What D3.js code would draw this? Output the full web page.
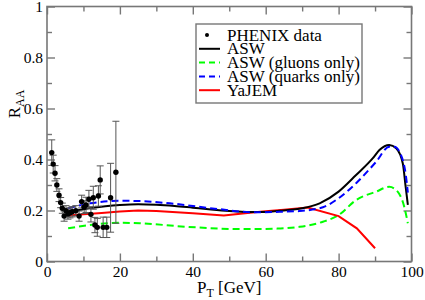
<!DOCTYPE html>
<html>
<head>
<meta charset="utf-8">
<script src="https://cdn.jsdelivr.net/npm/d3@7"></script>
<style>
  body { margin: 0; background: #fff; }
  svg text { font-family: "Liberation Serif", "Times New Roman", Tinos; }
</style>
</head>
<body>
<div id="chart"></div>
<script>
// Chart data
var phenixPt  = [1.3, 1.7, 2.2, 2.7, 3.3, 3.75, 4.2, 4.7, 5.2, 5.75, 6.3, 6.9, 7.9, 8.8, 9.5, 10.2, 10.7, 11.5, 12.05, 12.7, 13.15, 13.8, 14.1, 14.6, 15.4, 16.4, 17.45, 18.9];
var phenixRaa = [0.427, 0.382, 0.346, 0.30, 0.26, 0.231, 0.209, 0.178, 0.199, 0.186, 0.191, 0.195, 0.199, 0.178, 0.235, 0.213, 0.222, 0.244, 0.185, 0.25, 0.143, 0.134, 0.257, 0.32, 0.134, 0.134, 0.25, 0.35];
var phenixErr = [0.05, 0.035, 0.03, 0.025, 0.025, 0.02, 0.02, 0.02, 0.02, 0.02, 0.02, 0.02, 0.02, 0.02, 0.025, 0.025, 0.03, 0.035, 0.03, 0.045, 0.03, 0.035, 0.04, 0.055, 0.04, 0.04, 0.135, 0.2];

var aswPt  = [5, 8, 12, 16, 20, 25, 30, 35, 40, 45, 50, 55, 60, 63.8, 67, 70, 74.8, 80, 84.8, 89.4, 91.2, 93.9, 95.8, 97.6, 98.4, 99];
var aswRaa = [0.195, 0.2, 0.21, 0.217, 0.222, 0.225, 0.223, 0.218, 0.211, 0.204, 0.198, 0.194, 0.194, 0.199, 0.203, 0.209, 0.228, 0.274, 0.339, 0.405, 0.437, 0.457, 0.444, 0.385, 0.293, 0.222];

var gluonPt  = [5.8, 11.8, 20, 25.5, 38.3, 54.2, 63.2, 69.3, 75.7, 80, 84.8, 90.3, 93.9, 96.2, 98, 99];
var gluonRaa = [0.13, 0.143, 0.152, 0.15, 0.136, 0.127, 0.129, 0.136, 0.156, 0.182, 0.241, 0.274, 0.293, 0.274, 0.215, 0.15];

var quarkPt  = [5.8, 11.8, 20, 25.5, 33.7, 47.4, 56.6, 63.8, 69.3, 75.7, 80, 84.8, 90.3, 93.9, 95.3, 97.1, 98.5, 99];
var quarkRaa = [0.209, 0.228, 0.238, 0.237, 0.228, 0.205, 0.193, 0.195, 0.198, 0.213, 0.248, 0.307, 0.391, 0.45, 0.45, 0.418, 0.333, 0.27];

var yajemPt  = [6, 10, 15, 20, 25, 30, 40, 48.5, 55, 60, 65, 71.5, 80, 85, 90];
var yajemRaa = [0.18, 0.185, 0.19, 0.196, 0.2, 0.198, 0.189, 0.18, 0.19, 0.197, 0.203, 0.212, 0.178, 0.13, 0.052];

var xMajorTicks = [0, 20, 40, 60, 80, 100];
var xMinorTicks = [10, 30, 50, 70, 90];
var yMajorTicks = [0, 0.2, 0.4, 0.6, 0.8, 1];
var yMinorTicks = [0.1, 0.3, 0.5, 0.7, 0.9];

var legendLabels = ["PHENIX data", "ASW", "ASW (gluons only)", "ASW (quarks only)", "YaJEM"];

// SVG area
var svgWidth = 425;
var svgHeight = 300;

var plot = { left: 47, right: 411.5, top: 6.5, bottom: 261.5 };

var svg = d3.select("#chart")
  .append("svg")
  .attr("width", svgWidth)
  .attr("height", svgHeight);

var xScale = d3.scaleLinear().domain([0, 100]).range([plot.left, plot.right]);
var yScale = d3.scaleLinear().domain([0, 1]).range([plot.bottom, plot.top]);

var frameColor = "#777";
var tickFont = "15.5px";
var labelFont = "17px";

// Axes with inward ticks on all four sides
function styleAxis(g) {
  g.select(".domain").remove();
  g.selectAll(".tick line").attr("stroke", frameColor).attr("stroke-width", 1.4);
  g.selectAll(".tick text").attr("fill", "#000").style("font-size", tickFont);
}

svg.append("g")
  .attr("transform", `translate(0, ${plot.bottom})`)
  .call(d3.axisBottom(xScale).tickValues(xMajorTicks).tickSize(-8).tickPadding(4).tickFormat(d => d))
  .call(styleAxis);
svg.append("g")
  .attr("transform", `translate(0, ${plot.bottom})`)
  .call(d3.axisBottom(xScale).tickValues(xMinorTicks).tickSize(-5).tickFormat(""))
  .call(styleAxis);
svg.append("g")
  .attr("transform", `translate(0, ${plot.top})`)
  .call(d3.axisTop(xScale).tickValues(xMajorTicks).tickSize(-8).tickFormat(""))
  .call(styleAxis);
svg.append("g")
  .attr("transform", `translate(0, ${plot.top})`)
  .call(d3.axisTop(xScale).tickValues(xMinorTicks).tickSize(-5).tickFormat(""))
  .call(styleAxis);

svg.append("g")
  .attr("transform", `translate(${plot.left}, 0)`)
  .call(d3.axisLeft(yScale).tickValues(yMajorTicks).tickSize(-8).tickPadding(4).tickFormat(d => d))
  .call(styleAxis);
svg.append("g")
  .attr("transform", `translate(${plot.left}, 0)`)
  .call(d3.axisLeft(yScale).tickValues(yMinorTicks).tickSize(-5).tickFormat(""))
  .call(styleAxis);
svg.append("g")
  .attr("transform", `translate(${plot.right}, 0)`)
  .call(d3.axisRight(yScale).tickValues(yMajorTicks).tickSize(-8).tickFormat(""))
  .call(styleAxis);
svg.append("g")
  .attr("transform", `translate(${plot.right}, 0)`)
  .call(d3.axisRight(yScale).tickValues(yMinorTicks).tickSize(-5).tickFormat(""))
  .call(styleAxis);

// Frame
svg.append("rect")
  .attr("x", plot.left)
  .attr("y", plot.top)
  .attr("width", plot.right - plot.left)
  .attr("height", plot.bottom - plot.top)
  .attr("fill", "none")
  .attr("stroke", frameColor)
  .attr("stroke-width", 1.6);

// Curves
function drawCurve(xs, ys, color, dash, curve) {
  var pts = xs.map((x, i) => [x, ys[i]]);
  var line = d3.line()
    .x(d => xScale(d[0]))
    .y(d => yScale(d[1]))
    .curve(curve);
  svg.append("path")
    .datum(pts)
    .attr("d", line)
    .attr("fill", "none")
    .attr("stroke", color)
    .attr("stroke-width", 2)
    .attr("stroke-dasharray", dash);
}

drawCurve(gluonPt, gluonRaa, "#00ff00", "7,4", d3.curveMonotoneX);
drawCurve(yajemPt, yajemRaa, "#ff0000", null, d3.curveLinear);
drawCurve(aswPt, aswRaa, "#000000", null, d3.curveMonotoneX);
drawCurve(quarkPt, quarkRaa, "#0000ff", "7,4", d3.curveMonotoneX);

// PHENIX data with error bars
var phenix = phenixPt.map((x, i) => ({ x: x, y: phenixRaa[i], e: phenixErr[i] }));

var errGroup = svg.append("g").attr("stroke", "#555").attr("stroke-width", 1);
errGroup.selectAll(".ebar")
  .data(phenix)
  .enter()
  .append("path")
  .attr("fill", "none")
  .attr("d", function(d) {
    var cx = xScale(d.x), y1 = yScale(d.y + d.e), y2 = yScale(d.y - d.e);
    return `M${cx},${y1}V${y2}M${cx - 3.5},${y1}H${cx + 3.5}M${cx - 3.5},${y2}H${cx + 3.5}`;
  });

svg.selectAll(".pt")
  .data(phenix)
  .enter()
  .append("circle")
  .attr("cx", d => xScale(d.x))
  .attr("cy", d => yScale(d.y))
  .attr("r", 2.7)
  .attr("fill", "#000");

// Axis titles
var xTitle = svg.append("text")
  .attr("x", (plot.left + plot.right) / 2)
  .attr("y", 293)
  .attr("text-anchor", "middle")
  .style("font-size", labelFont);
xTitle.append("tspan").text("P");
xTitle.append("tspan").attr("dy", 4).style("font-size", "12px").text("T");
xTitle.append("tspan").attr("dy", -4).text(" [GeV]");

var yTitle = svg.append("text")
  .attr("transform", "translate(20, 104) rotate(-90)")
  .attr("text-anchor", "middle")
  .style("font-size", labelFont);
yTitle.append("tspan").text("R");
yTitle.append("tspan").attr("dy", 4).style("font-size", "12px").text("AA");

// Legend
var legend = { x: 196, y: 24, w: 166, h: 79, row: 13.8, first: 35 };

svg.append("rect")
  .attr("x", legend.x)
  .attr("y", legend.y)
  .attr("width", legend.w)
  .attr("height", legend.h)
  .attr("fill", "#fff")
  .attr("stroke", frameColor)
  .attr("stroke-width", 1.4);

var legendStyles = [
  { color: "#000", dash: null, dot: true },
  { color: "#000", dash: null },
  { color: "#00ff00", dash: "6,4" },
  { color: "#0000ff", dash: "6,4" },
  { color: "#ff0000", dash: null }
];

legendLabels.forEach(function(label, i) {
  var cy = legend.first + i * legend.row;
  var s = legendStyles[i];
  if (s.dot) {
    svg.append("circle").attr("cx", 207).attr("cy", cy).attr("r", 2).attr("fill", "#000");
  } else {
    svg.append("line")
      .attr("x1", 199).attr("x2", 220)
      .attr("y1", cy).attr("y2", cy)
      .attr("stroke", s.color)
      .attr("stroke-width", 2)
      .attr("stroke-dasharray", s.dash);
  }
  svg.append("text")
    .attr("x", 227)
    .attr("y", cy)
    .attr("dy", "0.33em")
    .style("font-size", labelFont)
    .text(label);
});
</script>
</body>
</html>
